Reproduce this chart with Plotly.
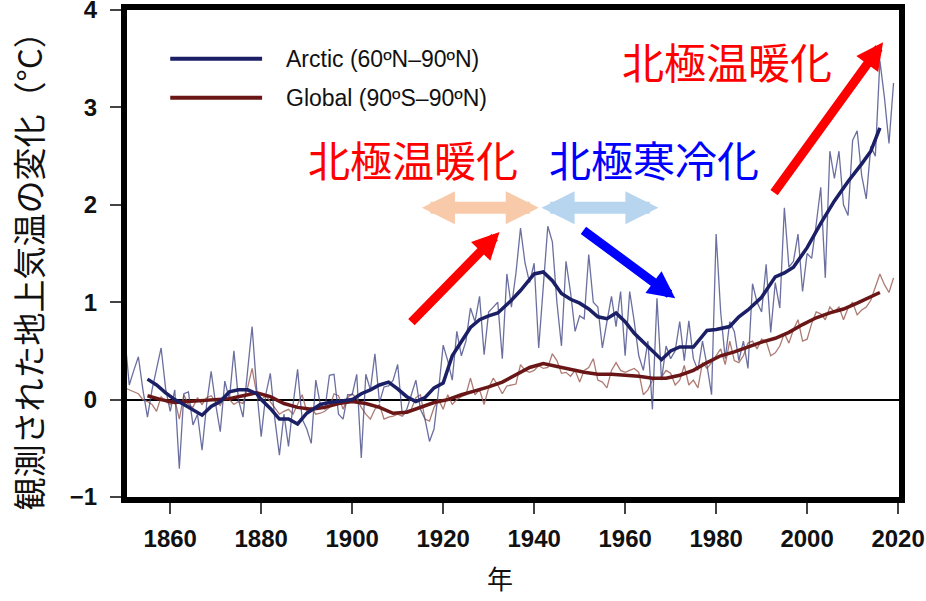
import plotly.graph_objects as go

# ---------------- data ----------------
years = list(range(1850, 2020))

arctic_annual = [
    0.65, 0.15, 0.30, 0.44, 0.10, -0.18, 0.10, 0.30, 0.53, 0.11,
    -0.12, 0.10, -0.71, 0.06, 0.08, -0.26, -0.15, -0.52, -0.05, 0.29,
    -0.05, -0.33, 0.19, 0.00, 0.50, 0.00, -0.18, 0.29, 0.75, 0.11,
    -0.38, 0.05, 0.27, -0.20, -0.57, -0.15, -0.48, -0.05, 0.31, -0.20,
    -0.30, -0.45, 0.20, -0.05, -0.10, 0.25, 0.26, -0.15, -0.20, 0.05,
    0.05, 0.26, -0.60, 0.26, 0.10, 0.47, -0.03, 0.13, 0.14, 0.20,
    0.36, -0.15, -0.10, 0.05, 0.20, -0.10, -0.20, -0.43, -0.30, 0.10,
    0.56, 0.40, 0.20, 0.70, 0.45, 0.60, 0.94, 0.80, 1.06, 0.46,
    0.90, 0.95, 1.00, 0.42, 1.29, 0.95, 1.30, 1.76, 1.40, 1.20,
    1.40, 0.53, 1.20, 1.78, 1.62, 1.00, 0.55, 1.42, 1.10, 0.70,
    0.86, 0.83, 1.49, 1.00, 0.95, 0.53, 0.80, 1.06, 0.75, 1.11,
    0.45, 1.11, 0.80, 0.45, 0.30, 0.60, -0.10, 1.04, 0.20, 0.55,
    0.42, 0.50, 0.80, 0.40, 0.81, 0.42, 0.30, 0.60, 0.35, 0.05,
    1.70, 0.90, 0.42, 0.80, 0.70, 0.40, 0.60, 0.32, 1.19, 1.00,
    0.90, 1.39, 0.69, 1.20, 0.94, 1.97, 1.36, 1.42, 1.70, 1.11,
    1.50, 1.45, 1.80, 2.18, 1.25, 2.55, 2.27, 2.55, 2.00, 1.89,
    2.66, 2.76, 2.30, 2.06, 2.60, 2.50, 3.48, 3.10, 2.63, 3.25,
]

global_annual = [
    0.12, 0.10, 0.08, 0.06, 0.00, -0.02, -0.05, -0.12, 0.03, -0.02,
    -0.05, 0.00, -0.20, 0.05, -0.05, -0.08, 0.02, -0.05, 0.02, 0.04,
    -0.02, -0.06, 0.03, 0.00, -0.05, -0.02, -0.04, 0.12, 0.32, 0.06,
    0.00, 0.04, -0.02, -0.08, -0.15, -0.12, -0.10, -0.15, -0.05, 0.05,
    -0.12, -0.08, -0.15, -0.14, -0.12, -0.08, 0.06, 0.04, -0.10, 0.02,
    0.06, 0.01, -0.08, -0.15, -0.20, -0.10, -0.05, -0.20, -0.18, -0.17,
    -0.15, -0.17, -0.12, -0.10, 0.02, 0.05, -0.20, -0.22, -0.08, 0.00,
    -0.10, 0.05, -0.05, 0.00, 0.03, 0.05, 0.22, 0.05, 0.10, -0.05,
    0.12, 0.22, 0.15, 0.06, 0.14, 0.15, 0.16, 0.36, 0.30, 0.28,
    0.30, 0.35, 0.32, 0.33, 0.47, 0.40, 0.27, 0.28, 0.24, 0.30,
    0.18, 0.30, 0.33, 0.42, 0.20, 0.18, 0.12, 0.30, 0.38, 0.30,
    0.28, 0.30, 0.32, 0.28, 0.05, 0.10, 0.20, 0.22, 0.23, 0.30,
    0.27, 0.15, 0.20, 0.35, 0.15, 0.20, 0.12, 0.38, 0.32, 0.38,
    0.45, 0.52, 0.36, 0.60, 0.40, 0.38, 0.45, 0.58, 0.60, 0.52,
    0.62, 0.60, 0.45, 0.48, 0.55, 0.68, 0.58, 0.72, 0.82, 0.60,
    0.62, 0.78, 0.90, 0.88, 0.82, 0.95, 0.90, 0.95, 0.82, 0.94,
    1.00, 0.87, 0.92, 0.95, 1.02, 1.15, 1.29, 1.18, 1.10, 1.25,
]

arctic_smooth_years = [
    1855, 1857, 1859, 1861, 1863, 1865, 1867, 1869, 1871, 1873,
    1875, 1877, 1879, 1880, 1882, 1884, 1886, 1888, 1890, 1893,
    1895, 1897, 1900, 1902, 1904, 1906, 1908, 1910, 1912, 1914,
    1916, 1918, 1920, 1922, 1924, 1926, 1928, 1930, 1932, 1935,
    1937, 1940, 1942, 1944, 1946, 1948, 1950, 1952, 1954, 1956,
    1958, 1960, 1962, 1965, 1968, 1970, 1972, 1975, 1978, 1980,
    1983, 1985, 1987, 1990, 1993, 1995, 1997, 2000, 2003, 2006,
    2009, 2012, 2014, 2016,
]
arctic_smooth = [
    0.21, 0.15, 0.07, 0.00, -0.05, -0.10, -0.16, -0.07, -0.02, 0.08,
    0.10, 0.10, 0.06, 0.00, -0.09, -0.20, -0.20, -0.25, -0.14, -0.05,
    -0.03, -0.02, 0.00, 0.06, 0.10, 0.15, 0.18, 0.11, 0.03, -0.02,
    0.02, 0.12, 0.17, 0.45, 0.60, 0.74, 0.82, 0.86, 0.89, 1.02,
    1.12, 1.29, 1.31, 1.22, 1.09, 1.03, 0.99, 0.93, 0.85, 0.83,
    0.89, 0.80, 0.68, 0.54, 0.41, 0.50, 0.54, 0.54, 0.71, 0.72,
    0.75, 0.85, 0.92, 1.05, 1.26, 1.30, 1.36, 1.56, 1.81, 2.04,
    2.24, 2.42, 2.55, 2.79,
]

global_smooth_years = [
    1855, 1858, 1861, 1864, 1867, 1870, 1873, 1876, 1879, 1882,
    1885, 1888, 1891, 1894, 1897, 1900, 1903, 1906, 1909, 1912,
    1915, 1918, 1921, 1924, 1927, 1930, 1933, 1936, 1939, 1942,
    1945, 1948, 1951, 1954, 1957, 1960, 1963, 1966, 1969, 1972,
    1975, 1978, 1981, 1984, 1987, 1990, 1993, 1996, 1999, 2002,
    2005, 2008, 2011, 2014, 2016,
]
global_smooth = [
    0.04, 0.00, -0.03, -0.02, -0.01, 0.00, 0.01, 0.04, 0.07, 0.03,
    -0.04, -0.08, -0.10, -0.08, -0.04, -0.02, -0.04, -0.08, -0.14, -0.13,
    -0.08, -0.03, 0.00, 0.05, 0.09, 0.13, 0.18, 0.26, 0.33, 0.37,
    0.34, 0.31, 0.28, 0.26, 0.26, 0.25, 0.24, 0.22, 0.22, 0.25,
    0.30, 0.38, 0.45, 0.49, 0.54, 0.59, 0.63, 0.69, 0.77, 0.84,
    0.89, 0.93, 0.99, 1.06, 1.10,
]

x_ticks = [1860, 1880, 1900, 1920, 1940, 1960, 1980, 2000, 2020]
y_ticks = [-1, 0, 1, 2, 3, 4]

legend_labels = ["Arctic (60ºN–90ºN)", "Global (90ºS–90ºN)"]
y_title = "観測された地上気温の変化（°C）"
x_title = "年"
label_warm = "北極温暖化"
label_cool = "北極寒冷化"

# ---------------- styles ----------------
NAVY = "#1b1f66"
NAVY_THIN = "rgba(70,75,135,0.8)"
MAROON = "#6a1616"
MAROON_THIN = "rgba(160,100,90,0.85)"
CJK = "Noto Sans CJK JP, Noto Sans CJK SC, sans-serif"
TICKFONT = "Liberation Sans Narrow, Arial Narrow, Liberation Sans, Arial, sans-serif"

fig = go.Figure()
fig.add_trace(go.Scatter(x=years, y=global_annual, mode="lines",
                         line=dict(color=MAROON_THIN, width=1.3), hoverinfo="skip", showlegend=False))
fig.add_trace(go.Scatter(x=years, y=arctic_annual, mode="lines",
                         line=dict(color=NAVY_THIN, width=1.3), hoverinfo="skip", showlegend=False))
fig.add_trace(go.Scatter(x=global_smooth_years, y=global_smooth, mode="lines",
                         line=dict(color=MAROON, width=3.5), hoverinfo="skip", showlegend=False))
fig.add_trace(go.Scatter(x=arctic_smooth_years, y=arctic_smooth, mode="lines",
                         line=dict(color=NAVY, width=3.5), hoverinfo="skip", showlegend=False))

# manual legend (paper coords)
for i, (lab, col) in enumerate(zip(legend_labels, [NAVY, MAROON])):
    ly = 0.90 - i * 0.08
    fig.add_shape(type="line", xref="paper", yref="paper", x0=0.056, x1=0.175, y0=ly, y1=ly,
                  line=dict(color=col, width=4))
    fig.add_annotation(xref="paper", yref="paper", x=0.203, y=ly, text=lab, showarrow=False,
                       xanchor="left", yanchor="middle",
                       font=dict(family="Liberation Sans, Arial, sans-serif", size=23,
                                 color="#111111"))

# Japanese labels
fig.add_annotation(x=1913.4, y=2.48, text=label_warm, showarrow=False,
                   font=dict(family=CJK, size=42, color="#ff0000"))
fig.add_annotation(x=1966.3, y=2.48, text=label_cool, showarrow=False,
                   font=dict(family=CJK, size=42, color="#0000ff"))
fig.add_annotation(x=1982.5, y=3.48, text=label_warm, showarrow=False,
                   font=dict(family=CJK, size=42, color="#ff0000"))

# arrows
def arrow(x0, y0, x1, y1, color, width, size, both=False):
    fig.add_annotation(x=x1, y=y1, ax=x0, ay=y0, xref="x", yref="y", axref="x", ayref="y",
                       text="", showarrow=True, arrowhead=2, arrowsize=size, arrowwidth=width,
                       arrowcolor=color, arrowside="end+start" if both else "end",
                       standoff=0, startstandoff=0)

arrow(1912.7, 0.78, 1932.4, 1.72, "#ff0000", 9, 0.6)
arrow(1950.5, 1.75, 1971.0, 1.04, "#0000ff", 9, 0.6)
arrow(1992.5, 2.11, 2016.7, 3.67, "#ff0000", 9, 0.6)
arrow(1915.0, 1.97, 1941.0, 1.97, "#f8caa9", 12, 0.55, both=True)
arrow(1941.3, 1.97, 1967.3, 1.97, "#b7d5ef", 12, 0.55, both=True)

# axis titles
fig.add_annotation(xref="paper", yref="paper", x=-0.128, y=0.48, text=y_title, textangle=-90,
                   xanchor="center", yanchor="middle",
                   showarrow=False, font=dict(family=CJK, size=33, color="#111"))
fig.add_annotation(xref="paper", yref="paper", x=0.483, y=-0.166, text=x_title,
                   xanchor="center", yanchor="middle",
                   showarrow=False, font=dict(family=CJK, size=26, color="#111"))

fig.update_xaxes(range=[1850.5, 2020.2], tickvals=x_ticks, showgrid=False, zeroline=False,
                 showline=True, linewidth=6, linecolor="black", mirror=True,
                 ticks="outside", ticklen=11, tickwidth=1.5, tickcolor="#444",
                 ticklabelstandoff=4, automargin=False, ticklabeloverflow="allow",
                 tickfont=dict(family=TICKFONT, size=24, color="#111", weight="bold"))
fig.update_yaxes(range=[-1, 4], tickvals=y_ticks, showgrid=False,
                 zeroline=True, zerolinecolor="black", zerolinewidth=2,
                 showline=True, linewidth=6, linecolor="black", mirror=True,
                 ticks="outside", ticklen=11, tickwidth=1.5, tickcolor="#444",
                 ticklabelstandoff=8, automargin=False, ticklabeloverflow="allow",
                 tickfont=dict(family=TICKFONT, size=24, color="#111", weight="bold"))

fig.update_layout(width=926, height=601, margin=dict(l=127, r=27, t=10, b=104),
                  paper_bgcolor="white", plot_bgcolor="white", showlegend=False)

fig.write_html("out.html", config={"displayModeBar": False},
               post_script="document.body.style.margin='0';")
